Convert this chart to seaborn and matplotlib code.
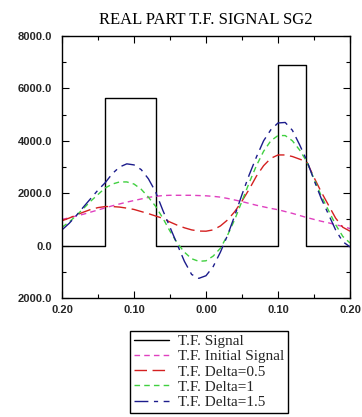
import numpy as np
import pandas as pd
import matplotlib
matplotlib.use("Agg")
import matplotlib.pyplot as plt
import seaborn as sns
from matplotlib.ticker import MultipleLocator

sns.set_theme(style="white")
plt.rcParams['font.family'] = ['Liberation Serif', 'DejaVu Serif']

# ---- data ----
signal_x = [-0.20, -0.14, -0.14, -0.069, -0.069, 0.10, 0.10, 0.139, 0.139, 0.20]
signal_y = [0, 0, 5650, 5650, 0, 0, 6900, 6900, 0, 0]

x = [-0.20, -0.19, -0.18, -0.17, -0.16, -0.15, -0.14, -0.13, -0.12, -0.11,
     -0.10, -0.09, -0.08, -0.07, -0.06, -0.05, -0.04, -0.03, -0.02, -0.01,
     0.00, 0.01, 0.02, 0.03, 0.04, 0.05, 0.06, 0.07, 0.08, 0.09,
     0.10, 0.11, 0.12, 0.13, 0.14, 0.15, 0.16, 0.17, 0.18, 0.19, 0.20]
initial = [1000, 1060, 1130, 1200, 1280, 1360, 1440, 1520, 1590, 1660,
           1720, 1780, 1840, 1880, 1910, 1920, 1920, 1920, 1920, 1910,
           1900, 1880, 1850, 1800, 1740, 1680, 1610, 1540, 1480, 1420,
           1370, 1300, 1230, 1150, 1070, 1000, 930, 870, 800, 730, 650]
delta05 = [950, 1050, 1170, 1280, 1380, 1450, 1490, 1490, 1470, 1430,
           1380, 1300, 1220, 1130, 1040, 900, 780, 680, 600, 555,
           550, 600, 750, 980, 1300, 1700, 2150, 2650, 3050, 3330,
           3460, 3460, 3400, 3300, 3200, 2600, 2050, 1550, 1050, 700, 550]
delta1 = [700, 900, 1150, 1420, 1700, 1950, 2200, 2350, 2430, 2430,
          2350, 2150, 1850, 1500, 1050, 550, 100, -250, -500, -600,
          -580, -400, -100, 400, 1000, 1700, 2400, 3050, 3600, 4000,
          4200, 4200, 4000, 3650, 3200, 2550, 1900, 1350, 800, 350, 100]
delta15 = [600, 850, 1150, 1480, 1800, 2120, 2400, 2750, 3000, 3120,
           3080, 2900, 2550, 2050, 1350, 700, 50, -600, -1100, -1250,
           -1150, -800, -250, 400, 1150, 1950, 2700, 3380, 4000, 4420,
           4680, 4700, 4400, 3850, 3250, 2500, 1800, 1200, 600, 150, -50]

labels = ["T.F. Signal", "T.F. Initial Signal", "T.F. Delta=0.5",
          "T.F. Delta=1", "T.F. Delta=1.5"]
title = "REAL PART T.F. SIGNAL SG2"
xtick_vals = [-0.2, -0.1, 0.0, 0.1, 0.2]
xtick_labels = ["0.20", "0.10", "0.00", "0.10", "0.20"]
ytick_vals = [-2000, 0, 2000, 4000, 6000, 8000]
ytick_labels = ["2000.0", "0.0", "2000.0", "4000.0", "6000.0", "8000.0"]

fig = plt.figure(figsize=(3.62, 4.17), dpi=100)
ax = fig.add_axes([62/362, 1-298/417, 288/362, 262/417])

lw = 1.0
sns.lineplot(x=signal_x, y=signal_y, ax=ax, estimator=None, sort=False,
             color="black", lw=lw, label=labels[0])
sns.lineplot(x=x, y=initial, ax=ax, color="#e040c0", lw=lw,
             linestyle=(0, (4, 3)), label=labels[1])
sns.lineplot(x=x, y=delta05, ax=ax, color="#d42020", lw=lw,
             linestyle=(0, (9, 4)), label=labels[2])
sns.lineplot(x=x, y=delta1, ax=ax, color="#40d040", lw=lw,
             linestyle=(0, (4, 3)), label=labels[3])
sns.lineplot(x=x, y=delta15, ax=ax, color="#1c1c8c", lw=lw,
             linestyle=(0, (10, 4, 3, 4)), label=labels[4])

ax.set_xlim(-0.2, 0.2)
ax.set_ylim(-2000, 8000)
ax.set_xticks(xtick_vals)
ax.set_xticklabels(xtick_labels)
ax.set_yticks(ytick_vals)
ax.set_yticklabels(ytick_labels)
ax.xaxis.set_minor_locator(MultipleLocator(0.05))
ax.yaxis.set_minor_locator(MultipleLocator(1000))
ax.tick_params(which="both", direction="in", top=True, right=True,
               bottom=True, left=True, color="black", width=0.8)
ax.tick_params(which="major", length=5)
ax.tick_params(which="minor", length=3)
ax.tick_params(axis="x", pad=5)
ax.tick_params(axis="y", pad=7)
for lab in ax.get_xticklabels() + ax.get_yticklabels():
    lab.set_fontfamily(['Liberation Sans', 'DejaVu Sans'])
    lab.set_fontweight('bold')
    lab.set_fontsize(8)
for s in ax.spines.values():
    s.set_color("black")
    s.set_linewidth(1.0)
ax.set_xlabel("")
ax.set_ylabel("")
ax.set_title(title, fontsize=12, pad=9, color="black")

handles, labs = ax.get_legend_handles_labels()
ax.legend_.remove()
leg = fig.legend(handles, labs, loc="upper center",
                 bbox_to_anchor=(209/362, 1-323/417), fontsize=11,
                 frameon=True, fancybox=False, edgecolor="black",
                 handlelength=2.3, handletextpad=0.6, labelspacing=0.1,
                 borderpad=0.25, framealpha=1)
leg.get_frame().set_linewidth(1.0)

fig.savefig("out.png", dpi=100)
